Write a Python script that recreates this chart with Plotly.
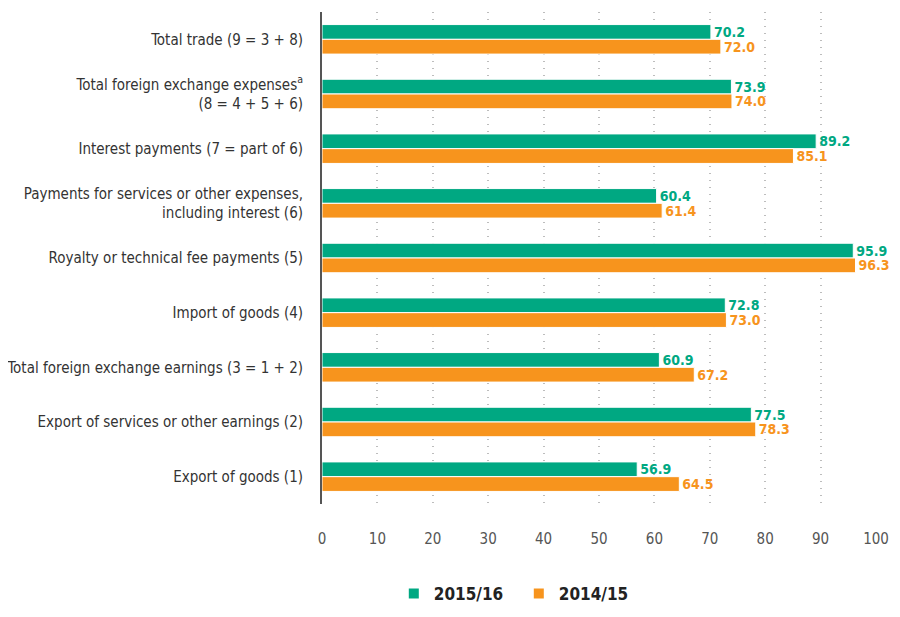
import plotly.graph_objects as go

categories = [
    "Total trade (9 = 3 + 8)",
    "Total foreign exchange expenses<sup>a</sup><br>(8 = 4 + 5 + 6)",
    "Interest payments (7 = part of 6)",
    "Payments for services or other expenses,<br>including interest (6)",
    "Royalty or technical fee payments (5)",
    "Import of goods (4)",
    "Total foreign exchange earnings (3 = 1 + 2)",
    "Export of services or other earnings (2)",
    "Export of goods (1)",
]
values_2015_16 = [70.2, 73.9, 89.2, 60.4, 95.9, 72.8, 60.9, 77.5, 56.9]
values_2014_15 = [72.0, 74.0, 85.1, 61.4, 96.3, 73.0, 67.2, 78.3, 64.5]
x_ticks = [0, 10, 20, 30, 40, 50, 60, 70, 80, 90, 100]

GREEN = "#00a882"
ORANGE = "#f7941d"
FONT = "DejaVu Sans Condensed, Roboto, sans-serif"

fig = go.Figure()
fig.add_trace(go.Bar(
    y=categories, x=values_2015_16, orientation="h", name="2015/16",
    marker=dict(color=GREEN, line=dict(color="white", width=1)),
    text=[f"{v:.1f}" for v in values_2015_16], textposition="outside",
    constraintext="none",
    textfont=dict(color=GREEN, size=14, family=FONT, weight="bold"),
    cliponaxis=False,
))
fig.add_trace(go.Bar(
    y=categories, x=values_2014_15, orientation="h", name="2014/15",
    marker=dict(color=ORANGE, line=dict(color="white", width=1)),
    text=[f"{v:.1f}" for v in values_2014_15], textposition="outside",
    constraintext="none",
    textfont=dict(color=ORANGE, size=14, family=FONT, weight="bold"),
    cliponaxis=False,
))

fig.update_layout(
    width=884, height=598,
    margin=dict(l=314, r=16, t=4, b=102, autoexpand=False),
    paper_bgcolor="white", plot_bgcolor="white",
    barmode="group", bargap=0.46, bargroupgap=0.0,
    font=dict(family=FONT, size=15, color="#333333"),
    showlegend=True,
    legend=dict(orientation="h", x=0.1296, xanchor="left", y=-0.183, yanchor="middle",
                font=dict(size=17, color="#222222", family=FONT, weight="bold"),
                entrywidth=80, entrywidthmode="pixels",
                itemsizing="constant", traceorder="normal"),
    xaxis=dict(range=[0, 100], tickvals=x_ticks, showgrid=True,
               gridcolor="#bdbdbd", griddash="1px,6px", gridwidth=1.5,
               zeroline=False, showline=False, ticks="", automargin=False,
               ticklabeloverflow="allow",
               tickfont=dict(size=15, color="#555555"), ticklabelstandoff=24),
    yaxis=dict(autorange="reversed", showline=True, linecolor="#555555", linewidth=2,
               ticks="", tickfont=dict(size=15, color="#333333"), ticklabelstandoff=14,
               showgrid=False, automargin=False),
)

fig.write_html("out.html")
